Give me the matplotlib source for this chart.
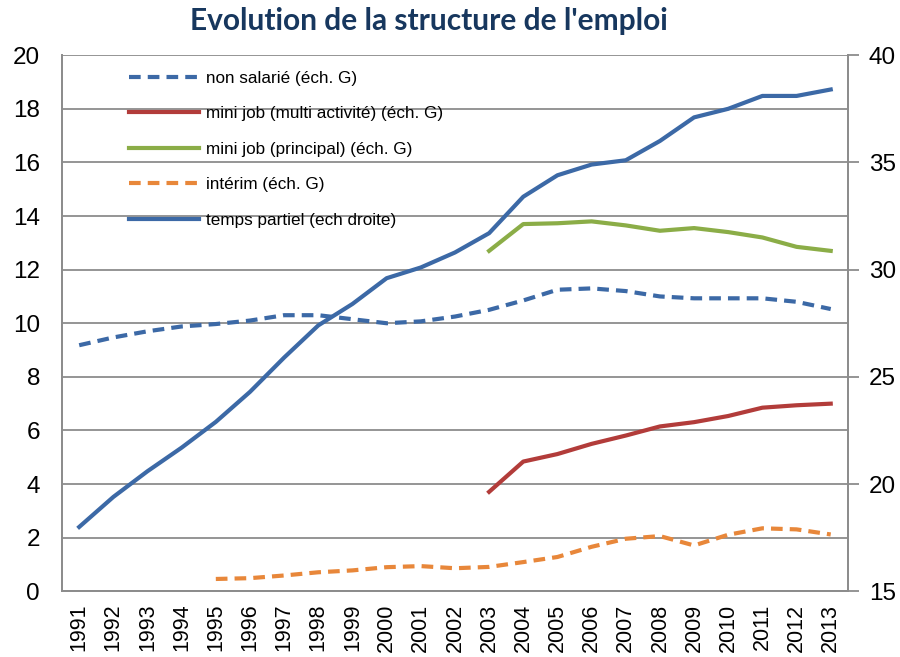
"""Evolution de la structure de l'emploi - recreated chart."""

import matplotlib
matplotlib.use("Agg")
import matplotlib.pyplot as plt
import numpy as np

years = list(range(1991, 2014))

non_salarie = [9.18, 9.47, 9.7, 9.88, 9.97, 10.1, 10.3, 10.3, 10.15, 10.0, 10.07, 10.25,
               10.5, 10.85, 11.25, 11.3, 11.2, 11.0, 10.93, 10.93, 10.93, 10.8, 10.53]
mini_multi = [None] * 12 + [3.71, 4.84, 5.12, 5.5, 5.81, 6.15, 6.31, 6.54, 6.85, 6.94, 7.0]
mini_principal = [None] * 12 + [12.7, 13.7, 13.73, 13.8, 13.65, 13.45, 13.55, 13.4, 13.2, 12.85, 12.7]
interim = [None] * 4 + [0.46, 0.49, 0.59, 0.71, 0.78, 0.9, 0.94, 0.86, 0.91, 1.09, 1.28,
                        1.66, 1.96, 2.06, 1.71, 2.11, 2.35, 2.31, 2.12]
temps_partiel = [18.0, 19.4, 20.6, 21.7, 22.9, 24.3, 25.9, 27.4, 28.4, 29.6, 30.1, 30.8,
                 31.7, 33.4, 34.4, 34.9, 35.1, 36.0, 37.1, 37.5, 38.1, 38.1, 38.4]


def as_array(values):
    return np.array([np.nan if v is None else v for v in values], dtype=float)


blue = "#3C69A6"
red = "#B23C3A"
green = "#8BAD47"
orange = "#E8873A"
grid_grey = "#8C8C8C"

tick_font = ["Liberation Sans Narrow", "DejaVu Sans Condensed", "Liberation Sans", "DejaVu Sans"]

fig = plt.figure(figsize=(9, 6.57), dpi=100)
ax = fig.add_axes([0.069, 0.10, 0.873, 0.816])
ax2 = ax.twinx()

x = np.arange(len(years))
lw = 3.0
dash = (0, (2.8, 1.7))
ax.plot(x, as_array(non_salarie), color=blue, lw=lw, ls=dash, label="non salarié (éch. G)")
ax.plot(x, as_array(mini_multi), color=red, lw=lw, label="mini job (multi activité) (éch. G)")
ax.plot(x, as_array(mini_principal), color=green, lw=lw, label="mini job (principal) (éch. G)")
ax.plot(x, as_array(interim), color=orange, lw=lw, ls=dash, label="intérim (éch. G)")
line_tp, = ax2.plot(x, as_array(temps_partiel), color=blue, lw=lw, label="temps partiel (ech droite)")

ax.set_xlim(-0.5, len(years) - 0.5)
ax.set_ylim(0, 20)
ax.set_yticks(range(0, 21, 2))
ax2.set_ylim(15, 40)
ax2.set_yticks(range(15, 41, 5))

ax.grid(axis="y", color=grid_grey, lw=1.3)
ax.set_axisbelow(True)

ax.set_xticks(x)
ax.set_xticklabels([str(y) for y in years], rotation=90, family=tick_font, fontsize=15.5)
ax.tick_params(axis="x", length=0, pad=9)
ax.tick_params(axis="y", length=0, pad=16, labelsize=17.5)
ax2.tick_params(axis="y", length=8, width=1.3, color=grid_grey, pad=7, labelsize=17.5)
for lab in ax.get_yticklabels() + ax2.get_yticklabels():
    lab.set_family(tick_font)

for a in (ax, ax2):
    a.spines["top"].set_visible(False)
    for side in ("left", "right", "bottom"):
        a.spines[side].set_color(grid_grey)
        a.spines[side].set_linewidth(1.3)

handles, labels = ax.get_legend_handles_labels()
handles.append(line_tp)
labels.append(line_tp.get_label())
ax.legend(handles, labels, loc="upper left", bbox_to_anchor=(0.066, 1.0), frameon=False,
          prop={"family": tick_font, "size": 12.3}, handlelength=4.1, handletextpad=0.4,
          labelspacing=1.2)

fig.suptitle("Evolution de la structure de l'emploi", x=0.476, y=0.99,
             fontsize=21.5, fontweight="bold", color="#17375E", family=["Lato", "DejaVu Sans"])

fig.savefig("out.png", dpi=100)
plt.close(fig)
